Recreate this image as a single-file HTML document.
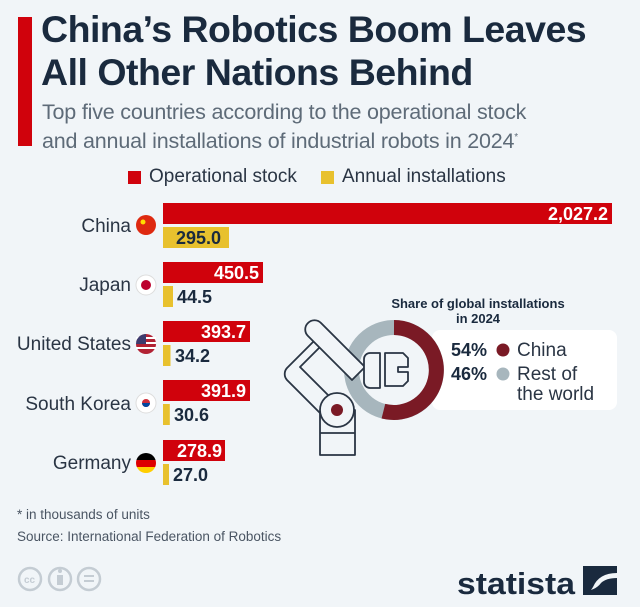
<!DOCTYPE html>
<html><head><meta charset="utf-8"><style>
body{margin:0;width:640px;height:607px;background:#f1f5f8;font-family:"Liberation Sans",sans-serif;overflow:hidden;position:relative}
.a{position:absolute;white-space:nowrap}
</style></head><body>
<div class="a" style="left:18px;top:17px;width:14px;height:129px;background:#d0020c"></div>
<div class="a" style="left:41px;top:8px;font-size:37.5px;font-weight:bold;color:#1a2a3e;line-height:43px;letter-spacing:-0.5px">China’s Robotics Boom Leaves<br>All Other Nations Behind</div>
<div class="a" style="left:42px;top:100px;font-size:21.5px;color:#5e6b78;line-height:25px;letter-spacing:-0.2px">Top five countries according to the operational stock<br>and annual installations of industrial robots in 2024<sup style="font-size:10px">*</sup></div>
<div class="a" style="left:128px;top:171px;width:13px;height:13px;background:#d0020c"></div>
<div class="a" style="left:149px;top:166px;font-size:19px;color:#2a3544">Operational stock</div>
<div class="a" style="left:321px;top:171px;width:13px;height:13px;background:#e8c12e"></div>
<div class="a" style="left:342px;top:166px;font-size:19px;color:#2a3544">Annual installations</div>

<svg class="a" style="left:0;top:0" width="640" height="607">
<g font-family="Liberation Sans" font-size="19" fill="#2a3544" text-anchor="end">
<text x="131" y="232">China</text><text x="131" y="291">Japan</text><text x="131" y="350">United States</text><text x="131" y="410">South Korea</text><text x="131" y="469">Germany</text>
</g>
<circle cx="146" cy="225" r="10" fill="#de2910"/><circle cx="143" cy="222" r="2.5" fill="#ffde00"/>
<circle cx="146" cy="285" r="10" fill="#fff" stroke="#ddd"/><circle cx="146" cy="285" r="5" fill="#bc002d"/>
<circle cx="146" cy="344" r="10" fill="#b22234"/><rect x="136" y="337" width="20" height="2" fill="#fff"/><rect x="136" y="342" width="20" height="2" fill="#fff"/><rect x="136" y="347" width="20" height="2" fill="#fff"/><path d="M136 344 A10 10 0 0 1 146 334 V344Z" fill="#3c3b6e"/>
<circle cx="146" cy="403" r="10" fill="#fff" stroke="#ddd"/><circle cx="146" cy="403" r="4" fill="#cd2e3a"/><path d="M142 403 a4 4 0 0 0 8 0Z" fill="#0047a0"/>
<clipPath id="de"><circle cx="146" cy="463" r="10"/></clipPath><g clip-path="url(#de)"><rect x="136" y="453" width="20" height="7" fill="#000"/><rect x="136" y="460" width="20" height="7" fill="#dd0000"/><rect x="136" y="467" width="20" height="7" fill="#ffce00"/></g>
<g fill="#d0020c"><rect x="163" y="203" width="449" height="21"/><rect x="163" y="262" width="100" height="21"/><rect x="163" y="321" width="87" height="21"/><rect x="163" y="380" width="87" height="21"/><rect x="163" y="440" width="62" height="21"/></g>
<g fill="#e8c12e"><rect x="163" y="227" width="66" height="21"/><rect x="163" y="286" width="10" height="21"/><rect x="163" y="345" width="7.5" height="21"/><rect x="163" y="404" width="6.8" height="21"/><rect x="163" y="464" width="6" height="21"/></g>
<g font-family="Liberation Sans" font-size="18" font-weight="bold" fill="#fff" text-anchor="end">
<text x="608" y="220">2,027.2</text><text x="259" y="279">450.5</text><text x="246" y="338">393.7</text><text x="246" y="397">391.9</text><text x="222" y="457">278.9</text></g>
<g font-family="Liberation Sans" font-size="18" font-weight="bold" fill="#1a2a3e">
<text x="176" y="244">295.0</text><text x="177" y="303">44.5</text><text x="175" y="362">34.2</text><text x="174" y="421">30.6</text><text x="173" y="481">27.0</text></g>
<rect x="432" y="330" width="185" height="80" rx="8" fill="#fff"/>
<circle cx="394" cy="370" r="42.5" fill="none" stroke="#a7b6bd" stroke-width="15"/>
<path d="M394 327.5 A42.5 42.5 0 1 1 383.4 411.2" fill="none" stroke="#7a1a25" stroke-width="15"/>
<g fill="none" stroke="#2a3544" stroke-width="1.8" stroke-linejoin="round">
<rect x="320" y="410" width="35" height="45" fill="#f1f5f8"/><line x1="320" y1="433" x2="355" y2="433"/>
<path d="M315 340 l-28 28 a9 9 0 0 0 0 12 l35 35 l13 -13 l-35 -35 l28 -28Z" fill="#f1f5f8"/>
<circle cx="337" cy="410" r="17" fill="#f1f5f8"/>
<path d="M308 323 a9 9 0 0 1 13 0 l44 44 l-13 13 l-44 -44 a9 9 0 0 1 0 -13Z" fill="#f1f5f8"/>
<path d="M370 353 h10 v35 h-10 a6 6 0 0 1 -6 -6 v-23 a6 6 0 0 1 6 -6Z" fill="#f1f5f8"/>
<path d="M385 353 h18 l5 5 v9 h-10 v5 h10 v9 l-5 5 h-18Z" fill="#f1f5f8"/>
</g>
<circle cx="337" cy="410" r="6" fill="#7a1a25"/>
<g font-family="Liberation Sans" font-size="13" font-weight="bold" fill="#1a2a3e" text-anchor="middle"><text x="478" y="308">Share of global installations</text><text x="478" y="323">in 2024</text></g>
<g font-family="Liberation Sans" font-size="18" font-weight="bold" fill="#1a2a3e"><text x="451" y="356">54%</text><text x="451" y="380">46%</text></g>
<circle cx="503" cy="350" r="6.5" fill="#7a1a25"/><circle cx="503" cy="374" r="6.5" fill="#a7b6bd"/>
<g font-family="Liberation Sans" font-size="19" fill="#2a3544"><text x="517" y="356">China</text><text x="517" y="380">Rest of</text><text x="517" y="400">the world</text></g>
<g fill="none" stroke="#c4ccd3" stroke-width="2.5"><circle cx="30" cy="579" r="11"/><circle cx="60" cy="579" r="11"/><circle cx="89" cy="579" r="11"/></g>
<text x="24" y="583" font-family="Liberation Sans" font-size="10" font-weight="bold" fill="#c4ccd3">cc</text>
<rect x="57" y="575" width="6" height="10" fill="#c4ccd3"/><circle cx="60" cy="571" r="2" fill="#c4ccd3"/>
<rect x="84" y="575" width="10" height="2" fill="#c4ccd3"/><rect x="84" y="580" width="10" height="2" fill="#c4ccd3"/>
<text x="457" y="594" font-family="Liberation Sans" font-size="31" font-weight="bold" fill="#1a2a3e" textLength="118" lengthAdjust="spacingAndGlyphs">statista</text>
<path d="M583 566 h34 v7 q-18 0 -24 14 q-4 7 -10 7Z" fill="#1a2a3e"/><path d="M617 578 v17 h-34 v-4 q12 0 18 -8 q5 -5 16 -5Z" fill="#1a2a3e"/>
</svg>
<div class="a" style="left:17px;top:507px;font-size:13.5px;color:#4a5563">* in thousands of units</div>
<div class="a" style="left:17px;top:529px;font-size:13.5px;color:#4a5563">Source: International Federation of Robotics</div>
</body></html>
